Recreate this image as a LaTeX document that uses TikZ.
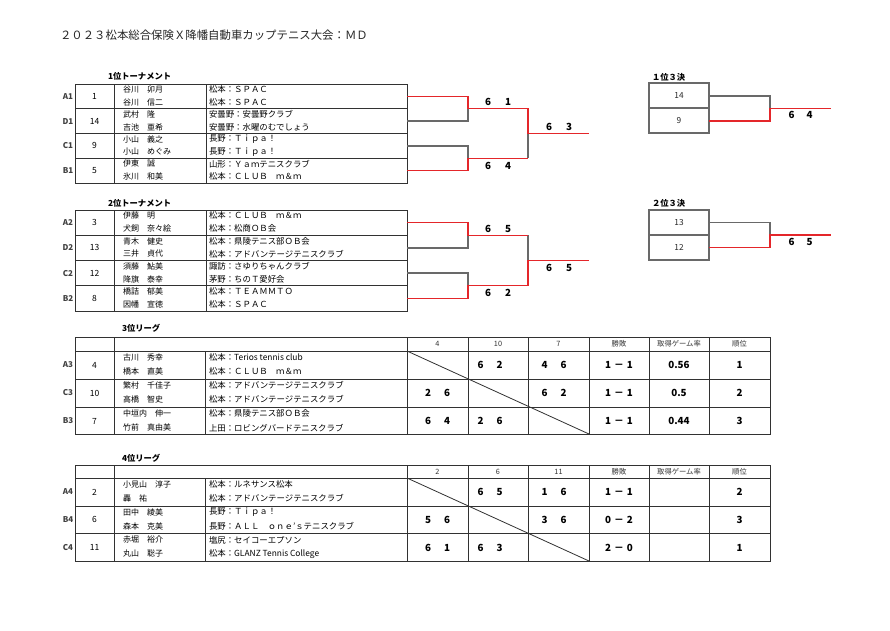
\documentclass[tikz,border=0pt]{standalone}
\usepackage{fontspec}
\setmainfont{Noto Sans CJK JP}
\definecolor{brred}{RGB}{228,38,42}
\definecolor{brgray}{RGB}{105,105,105}
\definecolor{tline}{RGB}{50,50,50}
\tikzset{
  every node/.style={inner sep=0pt, outer sep=0pt},
  ttl/.style={font=\fontsize{11.4}{13}\selectfont, anchor=west, text=black!85},
  sec/.style={font=\fontsize{8.3}{9}\selectfont\bfseries, anchor=west},
  lbl/.style={font=\fontsize{8}{9}\selectfont\bfseries, text=black!75},
  seed/.style={font=\fontsize{8.5}{9}\selectfont},
  nm/.style={font=\fontsize{8}{9}\selectfont, anchor=west},
  club/.style={font=\fontsize{8.4}{9}\selectfont, anchor=west},
  hdr/.style={font=\fontsize{7.3}{8}\selectfont, text=black!80},
  sc/.style={font=\fontsize{9.8}{10}\selectfont\bfseries},
  boxnum/.style={font=\fontsize{8.3}{9}\selectfont, text=black!85},
  grid/.style={draw=tline, line width=0.8pt},
  gl/.style={draw=brgray, line width=1.3pt},
  rl/.style={draw=brred, line width=1.4pt},
}
% team block: #1 id, #2 top, #3 height, #4 label, #5 seed, #6 name1, #7 club1, #8 name2, #9 club2
\newcommand\tmblock[9]{%
  \node[lbl]  (#1l)  at (68,{#2+#3/2}) {#4};
  \node[seed] (#1s)  at (94.5,{#2+#3/2}) {#5};
  \node[nm]   (#1n1) at (123,{#2+0.23*#3}) {#6};
  \node[club] (#1c1) at (209,{#2+0.23*#3}) {#7};
  \node[nm]   (#1n2) at (123,{#2+0.74*#3}) {#8};
  \node[club] (#1c2) at (209,{#2+0.74*#3}) {#9};
}
\begin{document}
\begin{tikzpicture}[x=1pt,y=-1pt]
\useasboundingbox (0,0) rectangle (890,630);
\fill[white] (0,0) rectangle (890,630);

\node[ttl] (title) at (60,35) {２０２３松本総合保険Ｘ降幡自動車カップテニス大会：ＭＤ};

%% ================= 1位トーナメント =================
\node[sec] (s1) at (108,76) {1位トーナメント};
\draw[grid] (75,84) rectangle (407,183);
\foreach \yy in {108.75,133.5,158.25} \draw[grid] (75,\yy) -- (407,\yy);
\draw[grid] (114,84) -- (114,183);
\draw[grid] (206,84) -- (206,183);
\tmblock{pa}{84}{24.75}{A1}{1}{谷川　卯月}{松本：ＳＰＡＣ}{谷川　信二}{松本：ＳＰＡＣ}
\tmblock{pb}{108.75}{24.75}{D1}{14}{武村　隆}{安曇野：安曇野クラブ}{吉池　亜希}{安曇野：水曜のむでしょう}
\tmblock{pc}{133.5}{24.75}{C1}{9}{小山　義之}{長野：Ｔｉｐａ！}{小山　めぐみ}{長野：Ｔｉｐａ！}
\tmblock{pd}{158.25}{24.75}{B1}{5}{伊東　誠}{山形：Ｙａｍテニスクラブ}{氷川　和美}{松本：ＣＬＵＢ　ｍ＆ｍ}

% bracket 1
\coordinate (b1a) at (407,96.4);  \coordinate (b1ae) at (468,96.4);
\coordinate (b1b) at (407,121.1); \coordinate (b1be) at (468,121.1);
\coordinate (b1c) at (407,145.9); \coordinate (b1ce) at (468,145.9);
\coordinate (b1d) at (407,170.6); \coordinate (b1de) at (468,170.6);
\coordinate (b1u) at (468,108.75); \coordinate (b1ue) at (528,108.75);
\coordinate (b1l) at (468,158.25); \coordinate (b1le) at (528,158.25);
\coordinate (b1f) at (528,133.5);  \coordinate (b1fe) at (589,133.5);
\draw[gl] (b1b) -- (b1be) -- (b1u);
\draw[gl] (b1c) -- (b1ce) -- (b1l);
\draw[gl] (b1le) -- (b1f);
\draw[rl] (b1a) -- (b1ae) -- (b1u) -- (b1ue) -- (b1f) -- (b1fe);
\draw[rl] (b1d) -- (b1de) -- (b1l) -- (b1le);
\node[sc] (r1a) at (498,102) {6\hspace{14pt}1};
\node[sc] (r1b) at (498,166) {6\hspace{14pt}4};
\node[sc] (r1c) at (559,127) {6\hspace{14pt}3};

% 1位3決
\node[sec] (s3a) at (652,77) {１位３決};
\draw[gl, line width=1.1pt] (649,83) rectangle (709,133);
\draw[gl, line width=1.1pt] (649,108) -- (709,108);
\node[boxnum] (k14) at (679,95.5) {14};
\node[boxnum] (k9) at (679,120.5) {9};
\coordinate (t1a) at (709,96); \coordinate (t1ae) at (770,96);
\coordinate (t1b) at (709,121); \coordinate (t1be) at (770,121);
\coordinate (t1m) at (770,108.5); \coordinate (t1me) at (831,108.5);
\draw[gl] (t1a) -- (t1ae) -- (t1m);
\draw[rl] (t1b) -- (t1be) -- (t1m) -- (t1me);
\node[sc] (r1d) at (800.5,114.5) {6\hspace{12pt}4};

%% ================= 2位トーナメント =================
\node[sec] (s2) at (108,203) {2位トーナメント};
\draw[grid] (75,210) rectangle (407,311);
\foreach \yy in {235.25,260.5,285.75} \draw[grid] (75,\yy) -- (407,\yy);
\draw[grid] (114,210) -- (114,311);
\draw[grid] (206,210) -- (206,311);
\tmblock{qa}{210}{25.25}{A2}{3}{伊藤　明}{松本：ＣＬＵＢ　ｍ＆ｍ}{犬飼　奈々絵}{松本：松商ＯＢ会}
\tmblock{qb}{235.25}{25.25}{D2}{13}{青木　健史}{松本：県陵テニス部ＯＢ会}{三井　貞代}{松本：アドバンテージテニスクラブ}
\tmblock{qc}{260.5}{25.25}{C2}{12}{須藤　鮎美}{諏訪：さゆりちゃんクラブ}{降旗　泰幸}{茅野：ちのＴ愛好会}
\tmblock{qd}{285.75}{25.25}{B2}{8}{橋詰　郁美}{松本：ＴＥＡＭＭＴＯ}{因幡　宣徳}{松本：ＳＰＡＣ}

% bracket 2
\coordinate (b2a) at (407,222.6); \coordinate (b2ae) at (468,222.6);
\coordinate (b2b) at (407,247.9); \coordinate (b2be) at (468,247.9);
\coordinate (b2c) at (407,273.1); \coordinate (b2ce) at (468,273.1);
\coordinate (b2d) at (407,298.4); \coordinate (b2de) at (468,298.4);
\coordinate (b2u) at (468,235.25); \coordinate (b2ue) at (528,235.25);
\coordinate (b2l) at (468,285.75); \coordinate (b2le) at (528,285.75);
\coordinate (b2f) at (528,260.5);  \coordinate (b2fe) at (589,260.5);
\draw[gl] (b2b) -- (b2be) -- (b2u);
\draw[gl] (b2c) -- (b2ce) -- (b2l);
\draw[gl] (b2ue) -- (b2f);
\draw[rl] (b2a) -- (b2ae) -- (b2u) -- (b2ue);
\draw[rl] (b2d) -- (b2de) -- (b2l) -- (b2le) -- (b2f) -- (b2fe);
\node[sc] (r2a) at (498,228.5) {6\hspace{14pt}5};
\node[sc] (r2b) at (498,292.5) {6\hspace{14pt}2};
\node[sc] (r2c) at (559,267.5) {6\hspace{14pt}5};

% 2位3決
\node[sec] (s3b) at (652,203) {２位３決};
\draw[gl, line width=1.1pt] (649,210) rectangle (709,260);
\draw[gl, line width=1.1pt] (649,235) -- (709,235);
\node[boxnum] (k13) at (679,222.5) {13};
\node[boxnum] (k12) at (679,247.5) {12};
\coordinate (t2a) at (709,222.5); \coordinate (t2ae) at (770,222.5);
\coordinate (t2b) at (709,247.5); \coordinate (t2be) at (770,247.5);
\coordinate (t2m) at (770,235); \coordinate (t2me) at (831,235);
\draw[gl] (t2a) -- (t2ae) -- (t2m);
\draw[rl] (t2b) -- (t2be) -- (t2m) -- (t2me);
\node[sc] (r2d) at (800.5,241.5) {6\hspace{12pt}5};

%% ================= 3位リーグ =================
\node[sec] (s4) at (122,328) {3位リーグ};
\draw[grid] (75,337) rectangle (770,434);
\foreach \yy in {351,379,407} \draw[grid] (75,\yy) -- (770,\yy);
\foreach \xx in {114,407,468,528,589,649,709} \draw[grid] (\xx,337) -- (\xx,434);
\draw[grid] (205,351) -- (205,434);
\draw[grid] (407,351) -- (589,434);
\tmblock{la}{351}{28}{A3}{4}{古川　秀幸}{松本：Terios tennis club}{橋本　直美}{松本：ＣＬＵＢ　ｍ＆ｍ}
\tmblock{lb}{379}{28}{C3}{10}{繁村　千佳子}{松本：アドバンテージテニスクラブ}{高橋　智史}{松本：アドバンテージテニスクラブ}
\tmblock{lc}{407}{28}{B3}{7}{中垣内　伸一}{松本：県陵テニス部ＯＢ会}{竹前　真由美}{上田：ロビングバードテニスクラブ}
\node[hdr] (h3a) at (437.5,344) {4};
\node[hdr] (h3b) at (498,344) {10};
\node[hdr] (h3c) at (558.5,344) {7};
\node[hdr] (h3d) at (619,344) {勝敗};
\node[hdr] (h3e) at (679,344) {取得ゲーム率};
\node[hdr] (h3f) at (739.5,344) {順位};
% row A3
\node[sc] (m3ab) at (490,365) {6\hspace{13pt}2};
\node[sc] (m3ac) at (554,365) {4\hspace{13pt}6};
\node[sc] (m3ad) at (619,365) {1\hspace{3pt}－\hspace{3pt}1};
\node[sc] (m3ae) at (679,365) {0.56};
\node[sc] (m3af) at (739.5,365) {1};
% row C3
\node[sc] (m3ba) at (437.5,393) {2\hspace{13pt}6};
\node[sc] (m3bc) at (554,393) {6\hspace{13pt}2};
\node[sc] (m3bd) at (619,393) {1\hspace{3pt}－\hspace{3pt}1};
\node[sc] (m3be) at (679,393) {0.5};
\node[sc] (m3bf) at (739.5,393) {2};
% row B3
\node[sc] (m3ca) at (437.5,420.5) {6\hspace{13pt}4};
\node[sc] (m3cb) at (490,420.5) {2\hspace{13pt}6};
\node[sc] (m3cd) at (619,420.5) {1\hspace{3pt}－\hspace{3pt}1};
\node[sc] (m3ce) at (679,420.5) {0.44};
\node[sc] (m3cf) at (739.5,420.5) {3};

%% ================= 4位リーグ =================
\node[sec] (s5) at (122,458) {4位リーグ};
\draw[grid] (75,465) rectangle (770,561);
\foreach \yy in {478,506,533.5} \draw[grid] (75,\yy) -- (770,\yy);
\foreach \xx in {114,407,468,528,589,649,709} \draw[grid] (\xx,465) -- (\xx,561);
\draw[grid] (205,478) -- (205,561);
\draw[grid] (407,478) -- (589,561);
\tmblock{ma}{478}{28}{A4}{2}{小見山　淳子}{松本：ルネサンス松本}{轟　祐}{松本：アドバンテージテニスクラブ}
\tmblock{mb}{506}{27.5}{B4}{6}{田中　綾美}{長野：Ｔｉｐａ！}{森本　克美}{長野：ＡＬＬ　ｏｎｅ'ｓテニスクラブ}
\tmblock{mc}{533.5}{27.5}{C4}{11}{赤堀　裕介}{塩尻：セイコーエプソン}{丸山　聡子}{松本：GLANZ Tennis College}
\node[hdr] (h4a) at (437.5,471.5) {2};
\node[hdr] (h4b) at (498,471.5) {6};
\node[hdr] (h4c) at (558.5,471.5) {11};
\node[hdr] (h4d) at (619,471.5) {勝敗};
\node[hdr] (h4e) at (679,471.5) {取得ゲーム率};
\node[hdr] (h4f) at (739.5,471.5) {順位};
% row A4
\node[sc] (m4ab) at (490,492) {6\hspace{13pt}5};
\node[sc] (m4ac) at (554,492) {1\hspace{13pt}6};
\node[sc] (m4ad) at (619,492) {1\hspace{3pt}－\hspace{3pt}1};
\node[sc] (m4af) at (739.5,492) {2};
% row B4
\node[sc] (m4ba) at (437.5,520) {5\hspace{13pt}6};
\node[sc] (m4bc) at (554,520) {3\hspace{13pt}6};
\node[sc] (m4bd) at (619,520) {0\hspace{3pt}－\hspace{3pt}2};
\node[sc] (m4bf) at (739.5,520) {3};
% row C4
\node[sc] (m4ca) at (437.5,547.5) {6\hspace{13pt}1};
\node[sc] (m4cb) at (490,547.5) {6\hspace{13pt}3};
\node[sc] (m4cd) at (619,547.5) {2\hspace{3pt}－\hspace{3pt}0};
\node[sc] (m4cf) at (739.5,547.5) {1};
\end{tikzpicture}
\end{document}
